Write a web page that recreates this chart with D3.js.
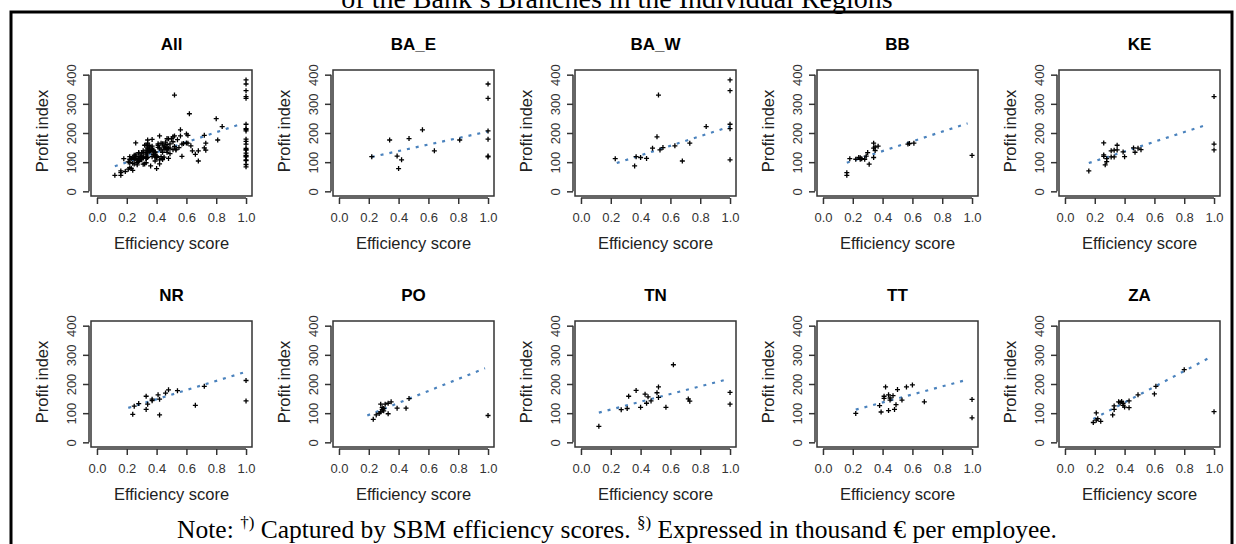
<!DOCTYPE html>
<html>
<head>
<meta charset="utf-8">
<script src="https://cdn.jsdelivr.net/npm/d3@7"></script>
<style>
body { margin: 0; background: #fff; }
</style>
</head>
<body>
<svg id="chart" width="1236" height="544"></svg>
<script>
// efficiency score vs profit index, one array of [score, index] per region
let baE = [[0.22,119],[0.34,176],[0.39,121],[0.42,108],[0.40,78],[0.47,181],[0.56,211],[0.64,139],
           [0.81,176],[1.0,368],[1.0,319],[1.0,207],[1.0,179],[1.0,121],[1.0,118]];
let baW = [[0.23,112],[0.36,87],[0.37,119],[0.40,116],[0.44,113],[0.48,148],[0.51,187],[0.52,330],
           [0.53,142],[0.55,150],[0.63,156],[0.68,104],[0.73,165],[0.84,222],
           [1.0,382],[1.0,345],[1.0,230],[1.0,215],[1.0,108]];
let bb  = [[0.16,64],[0.16,55],[0.18,112],[0.22,110],[0.24,116],[0.25,110],[0.25,115],[0.26,112],
           [0.28,110],[0.29,121],[0.30,133],[0.31,93],[0.34,165],[0.34,148],[0.35,152],[0.34,116],
           [0.35,140],[0.37,155],[0.57,162],[0.58,164],[0.61,165],[1.0,123]];
let ke  = [[0.16,70],[0.26,166],[0.26,120],[0.26,125],[0.27,91],[0.28,112],[0.28,102],[0.31,118],
           [0.31,139],[0.33,118],[0.33,141],[0.35,158],[0.35,142],[0.39,135],[0.40,119],[0.46,149],
           [0.47,134],[0.49,148],[0.51,143],[1.0,325],[1.0,162],[1.0,142]];
let nr  = [[0.24,96],[0.25,124],[0.28,133],[0.33,158],[0.33,113],[0.34,131],[0.37,143],[0.37,148],
           [0.41,163],[0.42,94],[0.42,148],[0.46,169],[0.48,180],[0.54,177],[0.66,127],[0.72,192],
           [1.0,212],[1.0,142]];
let po  = [[0.23,79],[0.25,94],[0.27,99],[0.28,131],[0.29,112],[0.29,119],[0.30,116],[0.31,131],
           [0.33,98],[0.33,134],[0.35,139],[0.28,104],[0.30,108],[0.39,117],[0.45,117],[0.47,150],
           [1.0,92]];
let tn  = [[0.12,55],[0.27,112],[0.31,116],[0.32,158],[0.37,178],[0.40,120],[0.43,165],[0.44,134],
           [0.45,156],[0.47,142],[0.51,170],[0.52,154],[0.52,190],[0.57,120],[0.62,266],[0.72,149],
           [0.73,141],[1.0,171],[1.0,131]];
let tt  = [[0.22,99],[0.38,126],[0.39,104],[0.42,190],[0.41,151],[0.41,158],[0.44,109],[0.44,163],
           [0.45,152],[0.45,145],[0.47,160],[0.48,113],[0.49,129],[0.50,181],[0.53,145],[0.56,190],
           [0.60,197],[0.68,139],[1.0,147],[1.0,84]];
let za  = [[0.19,68],[0.21,101],[0.21,76],[0.22,81],[0.24,72],[0.32,94],[0.33,113],[0.33,125],
           [0.36,139],[0.37,136],[0.38,140],[0.39,127],[0.39,134],[0.40,121],[0.43,142],[0.43,119],
           [0.49,163],[0.60,166],[0.61,192],[0.80,249],[1.0,105]];

let regionNames = ["BA_E", "BA_W", "BB", "KE", "NR", "PO", "TN", "TT", "ZA"];
let regionData  = [baE, baW, bb, ke, nr, po, tn, tt, za];

// dotted fit line, start and end point
let fitLines = [[[0.12,86],[0.96,230]],
                [[0.22,118],[1.0,205]], [[0.24,97],[1.0,222]], [[0.16,98],[0.97,233]],
                [[0.16,97],[0.95,228]], [[0.21,118],[1.0,242]], [[0.19,92],[0.98,254]],
                [[0.12,102],[0.98,216]], [[0.22,112],[0.97,215]], [[0.19,80],[0.98,293]]];

let xTicks = [0, 0.2, 0.4, 0.6, 0.8, 1.0];
let yTicks = [0, 100, 200, 300, 400];

// "All" panel is every branch together
let panels = [{name: "All", pts: d3.merge(regionData)}];
regionNames.forEach(function(n, i){ panels.push({name: n, pts: regionData[i]}); });

let chart = d3.select("#chart");
let serif = "Liberation Serif, Times New Roman, serif";

// caption line cut at the top
chart.append("text")
    .attr("x", 617).attr("y", 8)
    .attr("text-anchor", "middle")
    .attr("font-family", serif)
    .attr("font-size", "28px")
    .text("of the Bank\u2019s Branches in the Individual Regions");

// frame
chart.append("path")
    .attr("d", "M11,548 V12 H1232 V548")
    .attr("fill", "none")
    .attr("stroke", "#000")
    .attr("stroke-width", 3);

let boxW = 161, boxH = 126;
let sans = "Liberation Sans, Arial, sans-serif";

panels.forEach(function(p, i){
    let col = i % 5, row = Math.floor(i / 5);
    let left = 91 + col * 242;
    let top = row == 0 ? 70 : 321;

    let g = chart.append("g").attr("transform", "translate(" + left + "," + top + ")");

    let x = d3.scaleLinear().domain([-0.04, 1.04]).range([0, boxW]);
    let y = d3.scaleLinear().domain([-16, 416]).range([boxH, 0]);

    //title
    g.append("text")
        .attr("x", boxW / 2).attr("y", -20)
        .attr("text-anchor", "middle")
        .attr("font-family", sans)
        .attr("font-size", "17px")
        .attr("font-weight", "bold")
        .text(p.name);

    //box
    g.append("rect")
        .attr("width", boxW).attr("height", boxH)
        .attr("fill", "none")
        .attr("stroke", "#333")
        .attr("stroke-width", 1.5);

    //x axis
    let xa = g.append("g")
        .attr("transform", "translate(0," + (boxH + 2) + ")")
        .call(d3.axisBottom(x).tickValues(xTicks).tickSize(6).tickFormat(d3.format(".1f")));
    xa.select(".domain").remove();
    xa.append("line")
        .attr("x1", x(0)).attr("x2", x(1))
        .attr("stroke", "#333").attr("stroke-width", 1.5);
    xa.selectAll(".tick line").attr("stroke", "#333").attr("stroke-width", 1.5);
    xa.selectAll(".tick text")
        .attr("y", 23.5).attr("dy", 0)
        .attr("fill", "#333")
        .attr("font-family", sans)
        .attr("font-size", "13px");

    //y axis, labels turned like R does
    let ya = g.append("g")
        .attr("transform", "translate(-2,0)")
        .call(d3.axisLeft(y).tickValues(yTicks).tickSize(6));
    ya.select(".domain").remove();
    ya.append("line")
        .attr("y1", y(0)).attr("y2", y(400))
        .attr("stroke", "#333").attr("stroke-width", 1.5);
    ya.selectAll(".tick line").attr("stroke", "#333").attr("stroke-width", 1.5);
    ya.selectAll(".tick text")
        .attr("x", 0).attr("dy", 0)
        .attr("transform", "translate(-13.5,0) rotate(-90)")
        .attr("text-anchor", "middle")
        .attr("fill", "#333")
        .attr("font-family", sans)
        .attr("font-size", "13px");

    //axis titles
    g.append("text")
        .attr("x", boxW / 2).attr("y", boxH + 53)
        .attr("text-anchor", "middle")
        .attr("font-family", sans)
        .attr("font-size", "16.5px")
        .attr("fill", "#222")
        .text("Efficiency score");

    g.append("text")
        .attr("transform", "translate(-43," + (boxH / 2 - 2) + ") rotate(-90)")
        .attr("text-anchor", "middle")
        .attr("font-family", sans)
        .attr("font-size", "16.5px")
        .attr("fill", "#222")
        .text("Profit index");

    //fit line
    g.append("path")
        .datum(fitLines[i])
        .attr("d", d3.line().x(function(d){ return x(d[0]); }).y(function(d){ return y(d[1]); }))
        .attr("fill", "none")
        .attr("stroke", "#4a82bd")
        .attr("stroke-width", 2.2)
        .attr("stroke-dasharray", "3,6");

    //points, small plus signs
    g.selectAll("pts")
        .data(p.pts)
        .enter()
        .append("path")
            .attr("d", function(d){
                let cx = x(d[0]), cy = y(d[1]);
                return "M" + (cx - 2.5) + "," + cy + "H" + (cx + 2.5) + "M" + cx + "," + (cy - 2.5) + "V" + (cy + 2.5);
            })
            .attr("stroke", "#000")
            .attr("stroke-width", 1.3);
});

// note under the panels
let note = chart.append("text")
    .attr("x", 617).attr("y", 538)
    .attr("text-anchor", "middle")
    .attr("font-family", serif)
    .attr("font-size", "25.5px");
note.append("tspan").text("Note: ");
note.append("tspan").attr("font-size", "17px").attr("dy", -10).text("\u2020)");
note.append("tspan").attr("dy", 10).text(" Captured by SBM efficiency scores. ");
note.append("tspan").attr("font-size", "17px").attr("dy", -10).text("\u00a7)");
note.append("tspan").attr("dy", 10).text(" Expressed in thousand \u20ac per employee.");
</script>
</body>
</html>
